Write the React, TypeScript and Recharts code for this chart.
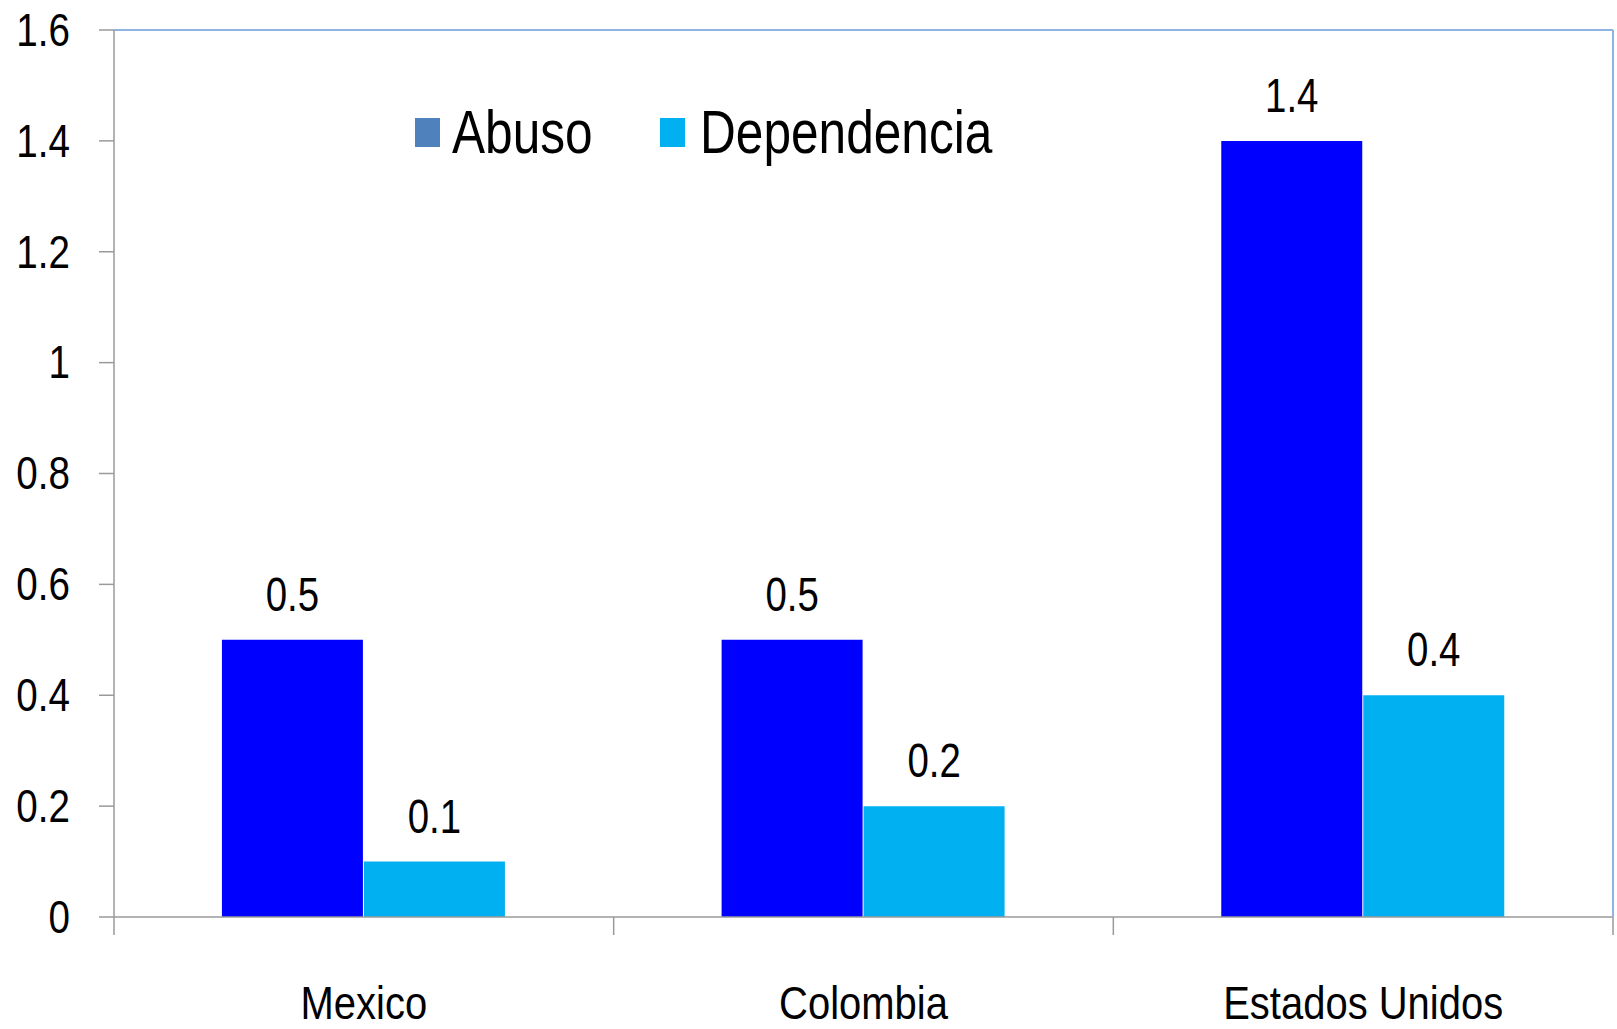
import React from 'react';
import { BarChart, Bar, XAxis, YAxis, LabelList, Legend, ReferenceLine } from 'recharts';

const categories = ['Mexico', 'Colombia', 'Estados Unidos'];
const abuso = [0.5, 0.5, 1.4];
const dependencia = [0.1, 0.2, 0.4];
const yTicks = [0, 0.2, 0.4, 0.6, 0.8, 1, 1.2, 1.4, 1.6];
const seriesKeys = ['abuso', 'dependencia'];
const seriesNames = ['Abuso', 'Dependencia'];
const legendColors = ['#4F81BD', '#00B0F0'];
const barColors = ['#0000FF', '#00B0F0'];

const data = categories.map((c, i) => ({ name: c, abuso: abuso[i], dependencia: dependencia[i] }));

const FONT = "'Liberation Sans', Arial, sans-serif";
const AXIS = '#9A9A9A';
const BORDER = '#8DB4E2';
const W = 1617;
const H = 1029;
const PLOT_LEFT = 114;
const PLOT_RIGHT = 1613;
const HALF = (PLOT_RIGHT - PLOT_LEFT) / categories.length / 2;

function SText(props: any) {
  const { x, y, anchor, size, sx, dy, children } = props;
  return (
    <text
      transform={`translate(${x},${y}) scale(${sx},1)`}
      x={0}
      y={0}
      dy={dy || 0}
      textAnchor={anchor}
      fontFamily={FONT}
      fontSize={size}
      fill="#000"
    >
      {children}
    </text>
  );
}

function XTick(props: any) {
  const { x, y, payload } = props;
  const idx = categories.indexOf(payload.value);
  const last = idx === categories.length - 1;
  return (
    <g>
      <line x1={x - HALF} x2={x - HALF} y1={y} y2={y + 18} stroke={AXIS} strokeWidth={1.5} />
      {last && <line x1={x + HALF} x2={x + HALF} y1={y} y2={y + 18} stroke={AXIS} strokeWidth={1.5} />}
      <SText x={x} y={y + 102} anchor="middle" size={46.5} sx={0.86}>
        {payload.value}
      </SText>
    </g>
  );
}

function YTick(props: any) {
  const { x, y, payload } = props;
  return (
    <SText x={x} y={y} anchor="end" size={46.5} sx={0.83} dy="0.34em">
      {String(payload.value)}
    </SText>
  );
}

function BarLabel(props: any) {
  const { x, y, width, value } = props;
  return (
    <SText x={x + width / 2} y={y - 29} anchor="middle" size={48} sx={0.8}>
      {String(value)}
    </SText>
  );
}

const legendSwatchX = [0, 245];
const legendTextX = [37, 285];

function LegendContent() {
  return (
    <svg width={720} height={74} style={{ display: 'block', overflow: 'visible' }}>
      {seriesNames.map((n, i) => (
        <g key={n}>
          <rect x={legendSwatchX[i]} y={18} width={25} height={29} fill={legendColors[i]} />
          <SText x={legendTextX[i]} y={53} anchor="start" size={60.5} sx={0.82}>
            {n}
          </SText>
        </g>
      ))}
    </svg>
  );
}

export default function App() {
  return (
    <div style={{ position: 'absolute', left: 0, top: 0, width: W, height: H, background: '#fff' }}>
      <BarChart
        width={W}
        height={H}
        data={data}
        margin={{ top: 30, right: 0, bottom: 0, left: 0 }}
        barCategoryGap="21.6%"
        barGap={1}
      >
        <XAxis
          dataKey="name"
          height={112}
          axisLine={{ stroke: AXIS, strokeWidth: 1.5 }}
          tickLine={false}
          tickSize={0}
          tickMargin={0}
          tick={<XTick />}
          interval={0}
        />
        <YAxis
          yAxisId="left"
          width={114}
          domain={[0, 1.6]}
          ticks={yTicks}
          interval={0}
          axisLine={{ stroke: AXIS, strokeWidth: 1.5 }}
          tickLine={{ stroke: AXIS, strokeWidth: 1.5 }}
          tickSize={15}
          tickMargin={29}
          tick={<YTick />}
        />
        <YAxis
          yAxisId="right"
          orientation="right"
          width={4}
          domain={[0, 1.6]}
          axisLine={{ stroke: BORDER, strokeWidth: 2 }}
          tick={false}
          tickLine={false}
        />
        <ReferenceLine yAxisId="left" y={1.6} stroke={BORDER} strokeWidth={2} />
        <Legend
          layout="horizontal"
          verticalAlign="middle"
          align="center"
          content={<LegendContent />}
          wrapperStyle={{ left: 415, top: 100, width: 720, height: 74 }}
        />
        {seriesKeys.map((k, i) => (
          <Bar key={k} yAxisId="left" dataKey={k} name={seriesNames[i]} fill={barColors[i]} isAnimationActive={false}>
            <LabelList dataKey={k} content={<BarLabel />} />
          </Bar>
        ))}
      </BarChart>
    </div>
  );
}
